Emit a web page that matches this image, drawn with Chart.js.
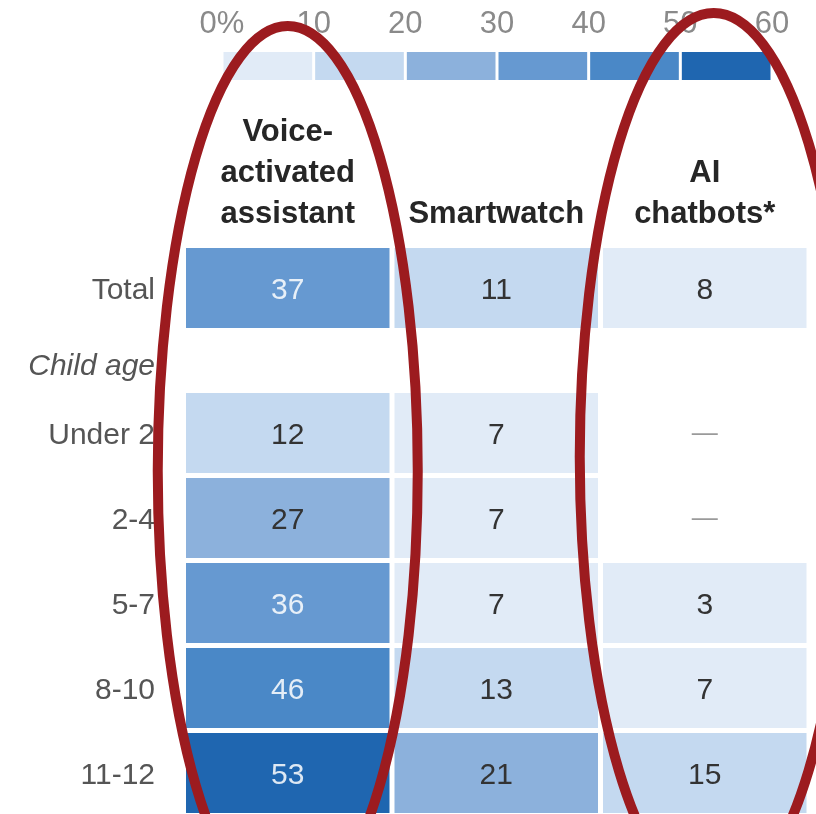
<!DOCTYPE html>
<html>
<head>
<meta charset="utf-8">
<script src="https://cdn.jsdelivr.net/npm/chart.js@4.4.1/dist/chart.umd.min.js"></script>
<style>
  html, body { margin: 0; padding: 0; background: #fff; }
  #wrap { position: relative; width: 816px; height: 814px; overflow: hidden; }
  canvas { position: absolute; left: 0; top: 0; }
  #scale { z-index: 1; }
  #heat { z-index: 2; }
</style>
</head>
<body>
<div id="wrap">
  <canvas id="scale" width="816" height="100"></canvas>
  <canvas id="heat" width="816" height="814"></canvas>
</div>
<script>
// data
const rowLabels = ['Total', 'Under 2', '2-4', '5-7', '8-10', '11-12'];
const groupLabel = 'Child age';
const columnLabels = [['Voice-', 'activated', 'assistant'], ['Smartwatch'], ['AI', 'chatbots*']];
const voiceAssistant = [37, 12, 27, 36, 46, 53];
const smartwatch = [11, 7, 7, 7, 13, 21];
const aiChatbots = [8, null, null, 3, 7, 15];
const scaleTicks = ['0%', '10', '20', '30', '40', '50', '60'];
const scaleSteps = [10, 10, 10, 10, 10, 10];

// style
const FONT = '"Liberation Sans", Arial, sans-serif';
const binColors = ['#e1ebf7', '#c4d9f0', '#8cb1dc', '#6699d1', '#4a88c7', '#1f66b0'];
const GROUP_GAP = 0.706;   // extra space after Total for the "Child age" line
const GROUP_LABEL_POS = 0.93;

function rowPos(i) { return i === 0 ? 0 : i + GROUP_GAP; }
function colorFor(v) { return binColors[Math.min(binColors.length - 1, Math.floor(v / 10))]; }

// ---------------- colour scale on top ----------------
new Chart(document.getElementById('scale'), {
  type: 'bar',
  data: {
    labels: ['scale'],
    datasets: scaleSteps.map((s, i) => ({
      data: [s],
      backgroundColor: binColors[i],
      borderColor: '#fff',
      borderWidth: {left: 1.5, right: 1.5, top: 0, bottom: 0},
      borderSkipped: false,
      inflateAmount: 0,
      barPercentage: 1,
      categoryPercentage: 1
    }))
  },
  options: {
    indexAxis: 'y',
    responsive: false,
    animation: false,
    devicePixelRatio: 1,
    layout: {padding: {left: 222, right: 44, bottom: 20, top: 0}},
    plugins: {legend: {display: false}, tooltip: {enabled: false}},
    scales: {
      x: {
        position: 'top', stacked: true, min: 0, max: 60,
        grid: {display: false, drawTicks: false, tickLength: 0},
        border: {display: false},
        ticks: {
          stepSize: 10, padding: 9, maxRotation: 0, autoSkip: false,
          color: '#8a8a8a', font: {family: FONT, size: 31},
          callback: v => scaleTicks[Math.round(v / 10)]
        },
        afterFit: s => { s.height = 52; }
      },
      y: {stacked: true, display: false}
    }
  }
});

// ---------------- heatmap ----------------
const columns = [voiceAssistant, smartwatch, aiChatbots];

const cellText = {
  id: 'cellText',
  afterDatasetsDraw(chart) {
    const {ctx, scales: {x, y}} = chart;
    ctx.save();
    ctx.textAlign = 'center';
    ctx.textBaseline = 'middle';
    columns.forEach((vals, c) => {
      vals.forEach((v, r) => {
        const px = x.getPixelForValue(c + 0.5);
        const py = y.getPixelForValue(rowPos(r));
        if (v == null) {
          ctx.font = '26px ' + FONT;
          ctx.fillStyle = '#9a9a9a';
          ctx.fillText('—', px, py + 1);
        } else {
          ctx.font = '30px ' + FONT;
          ctx.fillStyle = v >= 30 ? 'rgba(255,255,255,0.85)' : '#333333';
          ctx.fillText(String(v), px, py + 3);
        }
      });
    });
    // group label in italics
    ctx.textAlign = 'right';
    ctx.font = 'italic 30px ' + FONT;
    ctx.fillStyle = '#555555';
    ctx.fillText(groupLabel, y.right - 28.5, y.getPixelForValue(GROUP_LABEL_POS));
    ctx.restore();
  }
};

// red hand-drawn style circles around two columns
const circles = [
  {col: 0, dx: 0, top: 26, rx: 130, ry: 445},
  {col: 2, dx: 9, top: 13, rx: 134, ry: 444}
];
const circleMarks = {
  id: 'circleMarks',
  afterDraw(chart) {
    const {ctx, scales: {x}} = chart;
    ctx.save();
    ctx.strokeStyle = '#9c1b1f';
    ctx.lineWidth = 10;
    circles.forEach(c => {
      ctx.beginPath();
      ctx.ellipse(x.getPixelForValue(c.col + 0.5) + c.dx, c.top + c.ry, c.rx, c.ry, 0, 0, Math.PI * 2);
      ctx.stroke();
    });
    ctx.restore();
  }
};

new Chart(document.getElementById('heat'), {
  type: 'bar',
  data: {
    datasets: columns.map((vals, c) => ({
      data: vals
        .map((v, r) => v == null ? null : {x: [c, c + 1], y: rowPos(r), v: v})
        .filter(d => d !== null),
      backgroundColor: ctx => ctx.raw ? colorFor(ctx.raw.v) : 'rgba(0,0,0,0)',
      borderColor: '#fff',
      borderWidth: 2.5,
      borderSkipped: false,
      inflateAmount: 0,
      grouped: false,
      barThickness: 85
    }))
  },
  options: {
    indexAxis: 'y',
    responsive: false,
    animation: false,
    devicePixelRatio: 1,
    layout: {padding: {left: 0, right: 7, top: 0, bottom: 0}},
    plugins: {legend: {display: false}, tooltip: {enabled: false}},
    scales: {
      x: {
        type: 'linear', position: 'top', min: 0, max: 3, offset: false,
        grid: {display: false, drawTicks: false, tickLength: 0},
        border: {display: false},
        afterBuildTicks: s => { s.ticks = columnLabels.map((_, i) => ({value: i + 0.5})); },
        ticks: {
          autoSkip: false, maxRotation: 0, padding: 11,
          color: '#262626', font: {family: FONT, size: 31, weight: 'bold', lineHeight: 1.32},
          callback: v => columnLabels[Math.floor(v)]
        },
        afterFit: s => { s.height = 245.5; s.paddingLeft = 0; s.paddingRight = 0; }
      },
      y: {
        type: 'linear', reverse: true, min: -0.5, max: 6.188, offset: false,
        grid: {display: false, drawTicks: false, tickLength: 0},
        border: {display: false},
        afterBuildTicks: s => { s.ticks = rowLabels.map((_, i) => ({value: rowPos(i)})); },
        ticks: {
          autoSkip: false, padding: 28.5, labelOffset: 3,
          color: '#555555', font: {family: FONT, size: 30},
          callback: (v, i) => rowLabels[i]
        },
        afterFit: s => { s.width = 183.5; s.paddingTop = 0; s.paddingBottom = 0; }
      }
    }
  },
  plugins: [cellText, circleMarks]
});
</script>
</body>
</html>
